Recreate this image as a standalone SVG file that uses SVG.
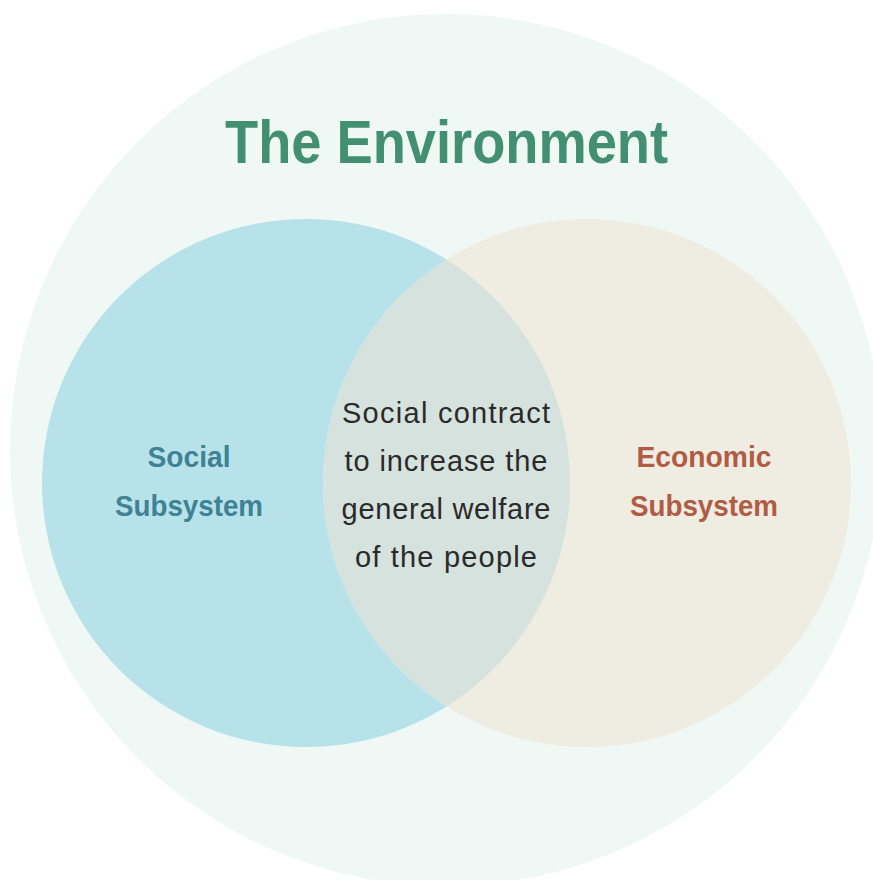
<svg xmlns="http://www.w3.org/2000/svg" width="873" height="880" viewBox="0 0 873 880">
  <style>
    .title { font-family: "Liberation Sans", Arial, sans-serif; font-weight: bold; font-size: 62px; fill: #428F73; }
    .label { font-family: "Liberation Sans", Arial, sans-serif; font-weight: bold; font-size: 30px; }
    .social { fill: #3E8294; }
    .economic { fill: #B05C45; }
    .body { font-family: "Liberation Sans", Arial, sans-serif; font-size: 29px; fill: #2A2A2A; }
  </style>
  <rect width="873" height="880" fill="#FFFFFF"/>

  <!-- Environment: outer circle with title -->
  <g id="environment">
    <circle cx="446" cy="450" r="436" fill="#F0F8F6"/>
    <text class="title" x="446.5" y="163" text-anchor="middle" textLength="443" lengthAdjust="spacingAndGlyphs">The Environment</text>
  </g>

  <!-- Social subsystem circle -->
  <g id="social-subsystem">
    <circle cx="306" cy="483" r="264" fill="#B8E2EA"/>
    <text class="label social" x="189" y="467" text-anchor="middle" textLength="83" lengthAdjust="spacingAndGlyphs">Social</text>
    <text class="label social" x="189" y="516" text-anchor="middle" textLength="148" lengthAdjust="spacingAndGlyphs">Subsystem</text>
  </g>

  <!-- Economic subsystem circle -->
  <g id="economic-subsystem">
    <circle cx="587" cy="483" r="264" fill="#EFECE2"/>
    <text class="label economic" x="704" y="467" text-anchor="middle" textLength="135" lengthAdjust="spacingAndGlyphs">Economic</text>
    <text class="label economic" x="704" y="516" text-anchor="middle" textLength="148" lengthAdjust="spacingAndGlyphs">Subsystem</text>
  </g>

  <!-- Overlap lens: the social contract -->
  <g id="social-contract">
    <path d="M 446.5 259.5 A 264 264 0 0 1 446.5 706.5 A 264 264 0 0 1 446.5 259.5 Z" fill="#D6E2DE"/>
    <text class="body" x="446" y="423" text-anchor="middle" textLength="208" lengthAdjust="spacing">Social contract</text>
    <text class="body" x="446" y="471" text-anchor="middle" textLength="203" lengthAdjust="spacing">to increase the</text>
    <text class="body" x="446" y="519" text-anchor="middle" textLength="209" lengthAdjust="spacing">general welfare</text>
    <text class="body" x="446" y="567" text-anchor="middle" textLength="182" lengthAdjust="spacing">of the people</text>
  </g>

  <!-- No connectors in this diagram -->
  <g id="connectors"/>
</svg>
